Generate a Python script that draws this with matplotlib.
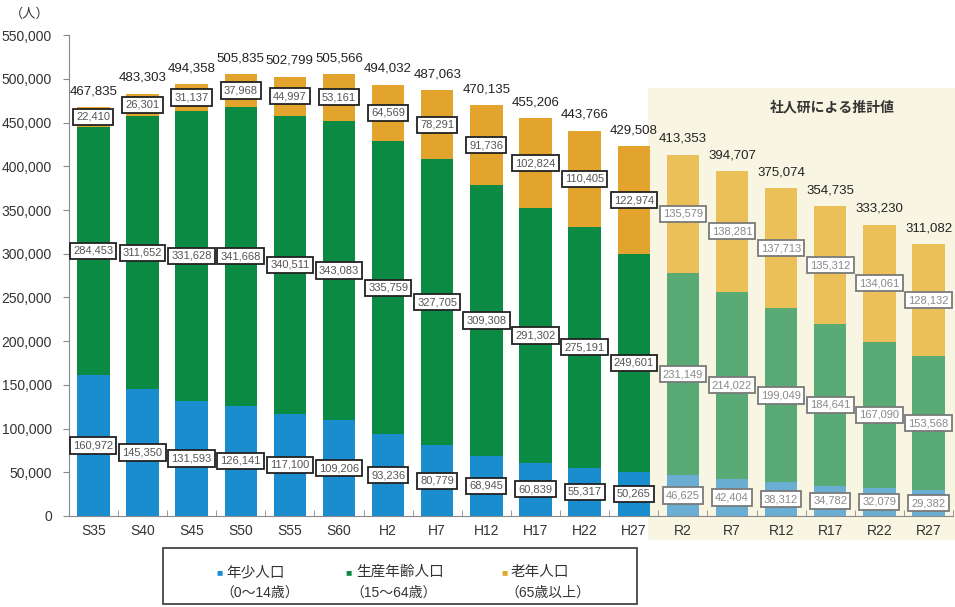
import numpy as np
import matplotlib.pyplot as plt
from matplotlib.patches import Rectangle

plt.rcParams['font.family'] = ['Liberation Sans', 'Noto Sans CJK JP', 'DejaVu Sans']

years = ['S35', 'S40', 'S45', 'S50', 'S55', 'S60', 'H2', 'H7', 'H12', 'H17', 'H22', 'H27',
         'R2', 'R7', 'R12', 'R17', 'R22', 'R27']
young = [160972, 145350, 131593, 126141, 117100, 109206, 93236, 80779, 68945, 60839, 55317, 50265,
         46625, 42404, 38312, 34782, 32079, 29382]
working = [284453, 311652, 331628, 341668, 340511, 343083, 335759, 327705, 309308, 291302, 275191, 249601,
           231149, 214022, 199049, 184641, 167090, 153568]
elderly = [22410, 26301, 31137, 37968, 44997, 53161, 64569, 78291, 91736, 102824, 110405, 122974,
           135579, 138281, 137713, 135312, 134061, 128132]
totals = [467835, 483303, 494358, 505835, 502799, 505566, 494032, 487063, 470135, 455206, 443766, 429508,
          413353, 394707, 375074, 354735, 333230, 311082]
n_actual = 12  # from R2 onward the figures are projections

young = np.array(young)
working = np.array(working)
elderly = np.array(elderly)
x = np.arange(len(years))
proj = x >= n_actual

c_young = np.where(proj, '#6aaed3', '#1a8dcf')
c_work = np.where(proj, '#5aaa76', '#0a8a43')
c_old = np.where(proj, '#ecc058', '#e2a42c')

fig = plt.figure(figsize=(9.55, 6.07), dpi=100)
fig.patch.set_facecolor('white')

# cream band behind the projection years
band = Rectangle((648 / 955, 1 - 540 / 607), 1 - 648 / 955, (540 - 88) / 607,
                 transform=fig.transFigure, facecolor='#f8f6e3', edgecolor='none', zorder=-5)
fig.patches.append(band)

ax = fig.add_axes([0.072, 0.150, 0.926, 0.792])
ax.patch.set_alpha(0)

w = 0.66
ax.bar(x, young, w, color=c_young, zorder=2)
ax.bar(x, working, w, bottom=young, color=c_work, zorder=2)
ax.bar(x, elderly, w, bottom=young + working, color=c_old, zorder=2)

def boxed(xi, yv, val, projected):
    ax.text(xi, yv, f'{val:,}', ha='center', va='center', fontsize=8,
            color='#8a8a8a' if projected else '#555555', zorder=4,
            bbox=dict(boxstyle='square,pad=0.28', fc='white',
                      ec='#7a7a7a' if projected else '#222222', lw=1.3))

for i in x:
    p = proj[i]
    boxed(i, young[i] / 2, young[i], p)
    boxed(i, young[i] + working[i] / 2, working[i], p)
    boxed(i, young[i] + working[i] + elderly[i] / 2, elderly[i], p)
    top = young[i] + working[i] + elderly[i]
    ax.annotate(f'{totals[i]:,}', (i, top), xytext=(0, 7), textcoords='offset points',
                ha='center', va='bottom', fontsize=9.5, color='#222222', zorder=5)

ax.set_xlim(-0.5, len(years) - 0.5)
ax.set_ylim(0, 550000)
ax.set_yticks(np.arange(0, 550001, 50000))
ax.set_yticklabels([f'{v:,}' for v in range(0, 550001, 50000)], fontsize=10, color='#333333')
ax.set_xticks(x)
ax.set_xticklabels(years, fontsize=10, color='#333333')
ax.set_xticks(np.arange(-0.5, len(years), 1), minor=True)
ax.tick_params(axis='x', which='major', length=0, pad=6)
ax.tick_params(axis='x', which='minor', direction='in', length=4, color='#888888')
ax.tick_params(axis='y', length=4, color='#888888', pad=8)
for s in ['top', 'right']:
    ax.spines[s].set_visible(False)
for s in ['left', 'bottom']:
    ax.spines[s].set_color('#888888')
    ax.spines[s].set_linewidth(0.8)

fig.text(10 / 955, 1 - 14 / 607, '（人）', fontsize=9.5, color='#333333', va='center', ha='left')
fig.text(832 / 955, 1 - 107 / 607, '社人研による推計値', fontsize=10, color='#333333',
         ha='center', va='center', fontweight='bold')

# legend frame with two-line entries
fig.patches.append(Rectangle((163 / 955, 1 - 604 / 607), (637 - 163) / 955, (604 - 548) / 607,
                             transform=fig.transFigure, facecolor='white', edgecolor='#333333', lw=1.2))
legend_items = [('#1a8dcf', '年少人口', '（0～14歳）', 219),
                ('#0a8a43', '生産年齢人口', '（15～64歳）', 349),
                ('#e2a42c', '老年人口', '（65歳以上）', 504)]
for col, name, ages, px in legend_items:
    fig.text(px / 955, 1 - 572 / 607, '■', fontsize=7.5, color=col, ha='center', va='center')
    fig.text((px + 7) / 955, 1 - 572 / 607, name, fontsize=10.5, color='#333333', va='center', ha='left')
    fig.text((px + 1) / 955, 1 - 593 / 607, ages, fontsize=10, color='#333333', va='center', ha='left')

fig.savefig('out.png', dpi=100)
